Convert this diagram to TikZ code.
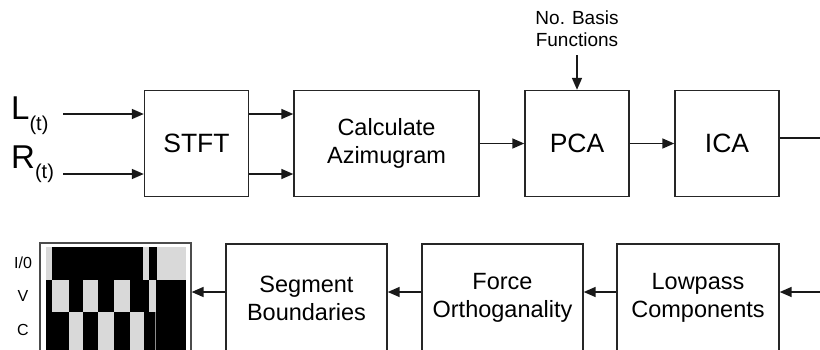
\documentclass[tikz,border=0pt]{standalone}
\usepackage{fontspec}
\setmainfont{Liberation Sans}
\usetikzlibrary{arrows.meta,calc}
\begin{document}
\begin{tikzpicture}[x=1pt,y=-1pt,
  box/.style={draw=black!85,line width=1.4pt,inner sep=0pt,align=center},
  arr/.style={draw=black!90,line width=1.6pt,-{Triangle[length=12pt,width=10pt]}},
  plain/.style={draw=black!90,line width=1.6pt},
  big/.style={font=\fontsize{26.5}{30}\selectfont},
  two/.style={font=\fontsize{23.5}{28}\selectfont},
  lab/.style={font=\fontsize{16}{18}\selectfont,inner sep=0pt},
  lite/.style={fill=black!15}]
\useasboundingbox (0,0) rectangle (820,349);
\clip (0,0) rectangle (820,349);

% top row
\node[box,big,minimum width=104pt,minimum height=106pt] (stft) at (196.5,143.5) {STFT};
\node[box,two,minimum width=185pt,minimum height=106pt] (azi) at (386.5,143.5) {Calculate\\Azimugram};
\node[box,big,minimum width=104pt,minimum height=106pt] (pca) at (577,143.5) {PCA};
\node[box,big,minimum width=104pt,minimum height=106pt] (ica) at (727,143.5) {ICA};

% inputs
\node[anchor=base west,inner sep=0pt] (lt) at (11,119) {\fontsize{33}{33}\selectfont L\raisebox{-11pt}{\fontsize{20}{20}\selectfont (t)}};
\node[anchor=base west,inner sep=0pt] (rt) at (11,168) {\fontsize{33}{33}\selectfont R\raisebox{-10pt}{\fontsize{20}{20}\selectfont (t)}};
\coordinate (lin) at (63,114);
\coordinate (rin) at (63,174);
\draw[arr] (lin) -- (lin -| stft.west);
\draw[arr] (rin) -- (rin -| stft.west);
\draw[arr] (stft.east |- lin) -- (azi.west |- lin);
\draw[arr] (stft.east |- rin) -- (azi.west |- rin);
\draw[arr] (azi.east) -- (pca.west);
\draw[arr] (pca.east) -- (ica.west);
\coordinate (icaout) at (821,138);
\draw[plain] (ica.east |- icaout) -- (icaout);

% basis functions
\node[font=\fontsize{19}{22}\selectfont,align=center,inner sep=0pt] (nb) at (577,29) {No. Basis\\Functions};
\coordinate (nbs) at (577,55);
\draw[arr] (nbs) -- (pca.north);

% bottom row
\node[box,two,minimum width=161pt,minimum height=108pt] (seg) at (306.5,298) {Segment\\Boundaries};
\node[box,two,minimum width=161pt,minimum height=108pt] (fo) at (502.5,298) {Force\\Orthoganality};
\node[box,two,minimum width=162pt,minimum height=108pt] (lp) at (698,298) {Lowpass\\Components};
\coordinate (rowb) at (821,292);
\draw[arr] (rowb) -- (lp.east |- rowb);
\draw[arr] (lp.west |- rowb) -- (fo.east |- rowb);
\draw[arr] (fo.west |- rowb) -- (seg.east |- rowb);

% result image
\node[draw=black!70,line width=1.2pt,minimum width=151pt,minimum height=112pt,inner sep=0pt] (img) at (115.5,299) {};
\fill[black] (46,247) rectangle (186,352);
% row 1
\fill[lite] (46,247) rectangle (52,280);
\fill[lite] (143,247) rectangle (149,280);
\fill[lite] (157,247) rectangle (186,280);
% row 2
\fill[lite] (52,280) rectangle (69,312);
\fill[lite] (83,280) rectangle (98,312);
\fill[lite] (114,280) rectangle (130,312);
\fill[lite] (149,280) rectangle (156,312);
% row 3
\fill[lite] (69,312) rectangle (83,352);
\fill[lite] (98,312) rectangle (114,352);
\fill[lite] (130,312) rectangle (144,352);
\draw[black!45,line width=0.8pt] (155,312) -- (155,352);
\draw[arr] (seg.west |- rowb) -- (img.east |- rowb);

\node[lab] (l1) at (23,263) {I/0};
\node[lab] (l2) at (23,296) {V};
\node[lab] (l3) at (23,330) {C};
\end{tikzpicture}
\end{document}
